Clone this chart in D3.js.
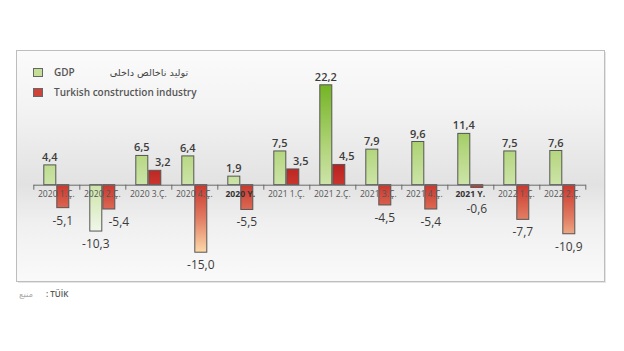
<!DOCTYPE html>
<html>
<head>
<meta charset="utf-8">
<script src="https://cdn.jsdelivr.net/npm/d3@7"></script>
<style>
  body { margin: 0; background: #fff; }
  svg { display: block; font-family: "Open Sans", sans-serif; }
</style>
</head>
<body>
<svg id="chart" width="624" height="351"></svg>
<script>
(() => {

    // chart data
    const categories = ['2020 1.Ç.', '2020 2.Ç.', '2020 3.Ç.', '2020 4.Ç.', '2020 Y.',
        '2021 1.Ç.', '2021 2.Ç.', '2021 3.Ç.', '2021 4.Ç.', '2021 Y.', '2022 1.Ç.', '2022 2.Ç.'];
    const annual = ['2020 Y.', '2021 Y.'];
    const gdp = [4.4, -10.3, 6.5, 6.4, 1.9, 7.5, 22.2, 7.9, 9.6, 11.4, 7.5, 7.6];
    const construction = [-5.1, -5.4, 3.2, -15.0, -5.5, 3.5, 4.5, -4.5, -5.4, -0.6, -7.7, -10.9];
    const series_keys = ['gdp', 'construction'];
    const legend_labels = ['GDP', 'Turkish construction industry'];
    const legend_arabic = 'تولید ناخالص داخلی';
    const source_label = ': TÜİK';
    const source_arabic = 'منبع';

    // chart parameters
    const left = 33.3;
    const right = 585.3;
    const group_padding = 10;

    let svg = d3.select('#chart');
    let defs = svg.append('defs');

    let x_scale = d3.scaleBand()
        .domain(categories)
        .range([left, right])
        .padding(0);

    let x_inner = d3.scaleBand()
        .domain(series_keys)
        .range([group_padding, x_scale.bandwidth() - group_padding]);

    let y_scale = d3.scaleLinear()
        .domain([-20, 25])
        .range([274.7, 72.2]);

    const y0 = y_scale(0);

    // gradients
    let frame_grad = defs.append('linearGradient')
        .attr('id', 'frame_grad')
        .attr('x1', 0).attr('y1', 0).attr('x2', 0).attr('y2', 1);
    [[0, '#fbfbfb'], [0.25, '#f3f3f3'], [0.58, '#e2e2e2'], [0.75, '#f0f0f0'], [1, '#fafafa']]
        .forEach(([o, c]) => frame_grad.append('stop').attr('offset', o).attr('stop-color', c));

    let green_grad = defs.append('linearGradient')
        .attr('id', 'green_grad')
        .attr('gradientUnits', 'userSpaceOnUse')
        .attr('x1', 0).attr('x2', 0)
        .attr('y1', y_scale(22.2)).attr('y2', y_scale(-10.3));
    [[0, '#74b424'], [0.45, '#b4d67e'], [0.75, '#d3e8b4'], [1, '#f1f7ea']]
        .forEach(([o, c]) => green_grad.append('stop').attr('offset', o).attr('stop-color', c));

    let red_grad = defs.append('linearGradient')
        .attr('id', 'red_grad')
        .attr('gradientUnits', 'userSpaceOnUse')
        .attr('x1', 0).attr('x2', 0)
        .attr('y1', y_scale(4.5)).attr('y2', y_scale(-15));
    [[0, '#b82222'], [0.22, '#c9352d'], [0.6, '#e07a60'], [1, '#fcd9a8']]
        .forEach(([o, c]) => red_grad.append('stop').attr('offset', o).attr('stop-color', c));

    const fills = { gdp: 'url(#green_grad)', construction: 'url(#red_grad)' };

    // frame
    svg.append('rect')
        .attr('x', 18).attr('y', 52)
        .attr('width', 588).attr('height', 231)
        .attr('fill', '#e6e6e6');
    svg.append('rect')
        .attr('x', 16.5).attr('y', 50.5)
        .attr('width', 588).attr('height', 231)
        .attr('fill', 'url(#frame_grad)')
        .attr('stroke', '#bdbdbd');

    // legend
    let legend = svg.append('g');
    legend_labels.forEach((label, i) => {
        let ly = 68 + i * 20;
        legend.append('rect')
            .attr('x', 33.5).attr('y', ly + 0.5)
            .attr('width', 9).attr('height', 8)
            .attr('fill', i == 0 ? '#c2df95' : '#cd4338')
            .attr('stroke', '#666');
        legend.append('text')
            .attr('x', 54).attr('y', ly + 8)
            .text(label)
            .style('font-size', '10px')
            .style('font-weight', 600)
            .style('fill', '#555');
    });
    legend.append('text')
        .attr('x', 149).attr('y', 75.5)
        .attr('text-anchor', 'middle')
        .text(legend_arabic)
        .style('font-family', '"DejaVu Sans", sans-serif')
        .style('font-size', '9.7px')
        .style('fill', '#444');

    // stack data
    let grouped_data = categories.map((c, i) => ({
        category: c,
        values: [
            { key: 'gdp', value: gdp[i] },
            { key: 'construction', value: construction[i], pair: gdp[i] }
        ]
    }));

    // bars
    let groups = svg.append('g')
        .selectAll('g')
        .data(grouped_data)
        .enter()
        .append('g')
        .attr('transform', (d) => `translate(${x_scale(d.category)},0)`);

    groups.selectAll('rect')
        .data((d) => d.values)
        .enter()
        .append('rect')
        .attr('x', (d) => x_inner(d.key) + 0.5)
        .attr('y', (d) => y_scale(Math.max(0, d.value)))
        .attr('width', x_inner.bandwidth() - 1)
        .attr('height', (d) => Math.abs(y_scale(d.value) - y0))
        .attr('fill', (d) => fills[d.key])
        .attr('stroke', '#555')
        .attr('stroke-width', 1);

    // axis with ticks on category boundaries
    let tick_scale = d3.scaleLinear()
        .domain([0, categories.length])
        .range([left, right]);

    let x_axis = d3.axisBottom(tick_scale)
        .tickValues(d3.range(categories.length + 1))
        .tickFormat('')
        .tickSize(5)
        .tickSizeOuter(0);

    let axis_g = svg.append('g')
        .attr('transform', `translate(0, ${y0})`)
        .call(x_axis);
    axis_g.select('.domain').attr('stroke', '#6a6a6a');
    axis_g.selectAll('.tick line').attr('stroke', '#6a6a6a');

    // category labels
    svg.append('g')
        .selectAll('text')
        .data(categories)
        .enter()
        .append('text')
        .attr('x', (d) => x_scale(d) + x_scale.bandwidth() / 2)
        .attr('y', y0 + 12.5)
        .attr('text-anchor', 'middle')
        .text((d) => d)
        .style('font-size', '8.6px')
        .style('font-weight', (d) => annual.includes(d) ? 700 : 400)
        .style('fill', (d) => annual.includes(d) ? '#333' : '#555');

    // value labels
    const fmt = (v) => v.toFixed(1).replace('.', ',');

    groups.selectAll('.value')
        .data((d) => d.values)
        .enter()
        .append('text')
        .attr('class', 'value')
        .attr('x', (d) => {
            let cx = x_inner(d.key) + x_inner.bandwidth() / 2;
            if (d.key == 'construction' && d.value >= 0) cx += 8;
            if (d.key == 'construction' && d.value < 0 && d.pair < 0) cx += 10;
            return cx;
        })
        .attr('y', (d) => d.value >= 0
            ? y_scale(d.value) - 4
            : Math.max(y_scale(d.value) + 17, y0 + 28.5))
        .attr('text-anchor', 'middle')
        .text((d) => fmt(d.value))
        .style('font-size', (d) => d.value >= 0 ? '11px' : '12px')
        .style('font-weight', (d) => d.value >= 0 ? 600 : 400)
        .style('fill', '#3c3c3c');

    // source
    svg.append('text')
        .attr('x', 26).attr('y', 297)
        .attr('text-anchor', 'middle')
        .text(source_arabic)
        .style('font-family', '"DejaVu Sans", sans-serif')
        .style('font-size', '8.5px')
        .style('fill', '#aaa');
    svg.append('text')
        .attr('x', 46).attr('y', 297)
        .text(source_label)
        .style('font-size', '8px')
        .style('font-weight', 600)
        .style('fill', '#555');

})();
</script>
</body>
</html>
